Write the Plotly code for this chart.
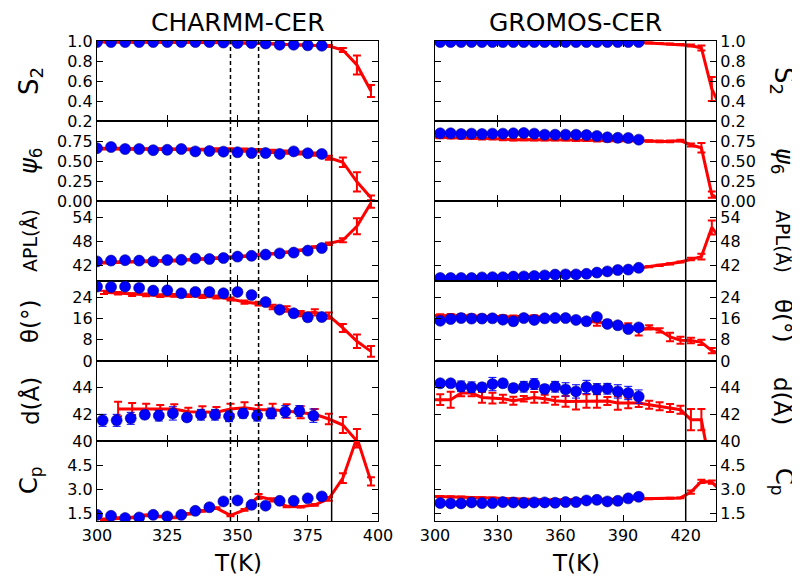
import plotly.graph_objects as go
from plotly.subplots import make_subplots

# ---------------- data ----------------
# CHARMM-CER (left column)
T_blue_L = [300, 305, 310, 315, 320, 325, 330, 335, 340, 345, 350, 355, 360, 365, 370, 375, 380]
T_blue_d_L = [302, 307, 312, 317, 322, 327, 332, 337, 342, 347, 352, 357, 362, 367, 372, 377]
T_red_L = [302.5, 307.5, 312.5, 317.5, 322.5, 327.5, 332.5, 337.5, 342.5, 347.5,
           352.5, 357.5, 362.5, 367.5, 372.5, 377.5, 382.5, 387.5, 392.5, 397.5]
T_red_d_L = T_red_L[1:]

S2_blue_L = [0.99, 0.99, 0.99, 0.99, 0.99, 0.99, 0.99, 0.99, 0.99, 0.985, 0.98, 0.98, 0.975, 0.963, 0.963, 0.957, 0.953]
S2_red_L = [0.99, 0.99, 0.99, 0.99, 0.99, 0.99, 0.99, 0.988, 0.985, 0.983, 0.98, 0.977, 0.972, 0.965, 0.96, 0.955, 0.95, 0.91, 0.76, 0.50]
S2_red_L_err = [0.005] * 16 + [0.01, 0.02, 0.095, 0.06]

psi_blue_L = [0.66, 0.675, 0.65, 0.65, 0.635, 0.64, 0.65, 0.62, 0.625, 0.617, 0.609, 0.6, 0.6, 0.588, 0.62, 0.597, 0.588]
psi_red_L = [0.655, 0.655, 0.65, 0.65, 0.648, 0.647, 0.645, 0.643, 0.64, 0.64, 0.637, 0.63, 0.62, 0.61, 0.60, 0.585, 0.54, 0.485, 0.24, 0.04]
psi_red_L_err = [0.01] * 8 + [0.02] * 8 + [0.025, 0.06, 0.12, 0.03]

apl_blue_L = [42.9, 43.1, 43.2, 43.1, 42.9, 43.25, 43.3, 43.6, 43.5, 43.75, 44.1, 44.3, 44.6, 44.9, 45.1, 45.6, 46.25]
apl_red_L = [42.6, 42.7, 42.8, 42.9, 43.0, 43.1, 43.3, 43.5, 43.7, 43.9, 44.2, 44.5, 44.8, 45.2, 45.7, 46.5, 47.3, 48.2, 51.7, 57.5]
apl_red_L_err = [0.2] * 16 + [0.3, 0.5, 2.0, 1.2]

th_blue_L = [27.9, 27.75, 27.9, 27.4, 26.4, 26.5, 25.4, 25.9, 25.9, 25.4, 25.9, 24.75, 22.1, 19.25, 17.9, 16.4, 16.5]
th_blue_L_err = [0.3] * 15 + [1.5, 1.0]
th_red_L = [25.75, 25.4, 24.9, 24.8, 24.5, 24.6, 24.5, 24.2, 24.0, 23.25, 22.1, 21.5, 20.25, 19.5, 17.75, 18.25, 17.0, 12.4, 7.4, 3.6]
th_red_L_err = [0.6, 0.5, 0.5, 0.5, 0.5, 0.5, 0.5, 0.6, 0.6, 0.6, 0.6, 0.7, 0.8, 1.0, 1.0, 1.2, 1.2, 1.5, 2.5, 2.0]

d_blue_L = [41.55, 41.55, 41.7, 41.97, 41.9, 42.07, 41.77, 41.97, 41.97, 41.85, 42.07, 41.9, 42.07, 42.2, 42.25, 41.9]
d_blue_L_err = [0.45, 0.45, 0.45, 0.3, 0.4, 0.5, 0.3, 0.4, 0.4, 0.4, 0.35, 0.4, 0.4, 0.45, 0.4, 0.5]
d_red_L = [42.4, 42.4, 42.4, 42.35, 42.4, 42.2, 42.2, 42.15, 42.4, 42.5, 42.35, 42.35, 42.25, 42.15, 42.0, 41.65, 41.2, 40.0, 37.5]
d_red_L_err = [0.55, 0.45, 0.4, 0.35, 0.35, 0.3, 0.4, 0.4, 0.4, 0.4, 0.35, 0.45, 0.5, 0.45, 0.4, 0.4, 0.6, 0.9, 0.9]

cp_blue_L = [1.43, 1.37, 1.23, 1.27, 1.43, 1.33, 1.43, 1.68, 1.9, 2.26, 2.32, 2.05, 2.0, 2.3, 2.3, 2.45, 2.57]
cp_red_L = [1.15, 1.23, 1.27, 1.4, 1.33, 1.27, 1.5, 1.68, 1.85, 1.4, 1.74, 2.57, 2.36, 1.95, 1.93, 2.05, 2.42, 3.7, 6.2, 3.5]
cp_red_L_err = [0.05] * 11 + [0.15, 0.1, 0.05, 0.05, 0.05, 0.12, 0.3, 0.6, 0.25]

# GROMOS-CER (right column)
T_blue_R = [302.5 + 5 * i for i in range(20)]
T_red_R = [297.5 + 5 * i for i in range(29)]

S2_blue_R = [0.99] * 20
S2_red_R = [0.99] * 20 + [0.985, 0.98, 0.975, 0.97, 0.965, 0.955, 0.93, 0.52, 0.3]
S2_red_R_err = [0.005] * 25 + [0.01, 0.025, 0.12, 0.1]

psi_blue_R = [0.846, 0.846, 0.8375, 0.842, 0.8375, 0.842, 0.842, 0.846, 0.85, 0.842, 0.829, 0.829, 0.829, 0.829, 0.825, 0.8125, 0.796, 0.79, 0.7875, 0.767]
psi_red_R = [0.80, 0.795, 0.79, 0.79, 0.785, 0.78, 0.78, 0.77, 0.765, 0.77, 0.765, 0.765, 0.765, 0.765, 0.76, 0.76, 0.755, 0.755, 0.755, 0.755, 0.755, 0.75, 0.745, 0.745, 0.755, 0.70, 0.665, 0.08, 0.0]
psi_red_R_err = [0.01] * 25 + [0.02, 0.06, 0.04, 0.04]

apl_blue_R = [38.75, 38.75, 38.75, 38.75, 38.9, 38.95, 38.95, 39.1, 39.15, 39.25, 39.4, 39.6, 39.65, 39.65, 39.8, 40.1, 40.4, 40.75, 40.85, 41.3]
apl_red_R = [38.5, 38.6, 38.7, 38.8, 38.9, 39.0, 39.15, 39.25, 39.35, 39.45, 39.55, 39.7, 39.8, 39.9, 40.0, 40.15, 40.3, 40.5, 40.7, 40.95, 41.2, 41.6, 41.9, 42.3, 42.75, 43.5, 44.1, 51.4, 48.0]
apl_red_R_err = [0.15] * 25 + [0.3, 0.7, 1.75, 1.0]

th_blue_R = [15.1, 15.75, 16.1, 15.9, 15.9, 16.0, 15.5, 14.9, 16.1, 15.4, 16.0, 16.1, 16.1, 15.4, 14.9, 16.5, 13.9, 13.4, 12.0, 12.6]
th_blue_R_err = [0.5] * 16 + [0.6, 0.7, 1.2, 0.8]
th_red_R = [17.2, 17.0, 17.1, 17.0, 16.9, 16.8, 16.8, 16.7, 16.6, 16.8, 16.7, 16.5, 16.4, 16.0, 15.6, 15.0, 14.5, 14.3, 13.6, 13.0, 11.2, 12.6, 11.5, 9.0, 7.8, 7.7, 7.0, 3.9, 2.5]
th_red_R_err = [0.5] * 15 + [1.0, 1.3, 1.0, 1.0, 1.2, 1.6, 0.8, 0.8, 1.6, 1.3, 1.0, 1.0, 1.0, 1.0]

d_blue_R = [44.33, 44.33, 44.1, 44.03, 44.03, 44.27, 44.33, 43.97, 44.07, 44.27, 43.9, 44.07, 43.87, 43.72, 44.05, 43.9, 43.92, 43.72, 43.6, 43.33]
d_blue_R_err = [0.2, 0.2, 0.4, 0.4, 0.3, 0.5, 0.3, 0.3, 0.4, 0.4, 0.3, 0.4, 0.5, 0.5, 0.5, 0.4, 0.4, 0.5, 0.5, 0.5]
d_red_R = [43.1, 43.1, 43.1, 43.6, 43.6, 43.27, 43.22, 43.17, 43.02, 43.17, 43.27, 43.17, 43.02, 42.97, 42.97, 43.0, 43.0, 43.0, 42.85, 42.85, 42.85, 42.72, 42.6, 42.47, 42.35, 41.6, 41.6, 37.5, 37.0]
d_red_R_err = [0.4, 0.4, 0.6, 0.25, 0.25, 0.4, 0.4, 0.3, 0.3, 0.2, 0.4, 0.3, 0.3, 0.4, 0.6, 0.5, 0.5, 0.3, 0.5, 0.4, 0.3, 0.3, 0.3, 0.3, 0.3, 0.8, 0.8, 0.5, 0.5]

cp_blue_R = [2.16, 2.14, 2.14, 2.2, 2.16, 2.16, 2.22, 2.2, 2.18, 2.2, 2.2, 2.18, 2.22, 2.22, 2.32, 2.36, 2.26, 2.3, 2.45, 2.55]
cp_red_R = [2.58, 2.57, 2.55, 2.53, 2.51, 2.49, 2.47, 2.44, 2.41, 2.38, 2.37, 2.36, 2.36, 2.36, 2.37, 2.38, 2.38, 2.39, 2.4, 2.41, 2.42, 2.43, 2.44, 2.46, 2.48, 2.84, 3.5, 3.45, 2.8]
cp_red_R_err = [0.03] * 25 + [0.1, 0.1, 0.1, 0.1]

row_labels = ["S<sub>2</sub>", "<i>ψ</i><sub>6</sub>", "APL(Å)", "θ(°)", "d(Å)", "C<sub>p</sub>"]
row_label_sizes = [26, 24, 19, 23, 23, 24]
y_ranges = [[0.2, 1.0], [0, 1.0], [38, 58], [0, 30], [40, 46], [1.05, 6.0]]
y_tickvals = [[0.2, 0.4, 0.6, 0.8, 1.0], [0, 0.25, 0.5, 0.75], [42, 48, 54], [0, 8, 16, 24], [40, 42, 44], [1.5, 3.0, 4.5]]
y_ticktext = [["0.2", "0.4", "0.6", "0.8", "1.0"], ["0.00", "0.25", "0.50", "0.75"], ["42", "48", "54"],
              ["0", "8", "16", "24"], ["40", "42", "44"], ["1.5", "3.0", "4.5"]]
x_ticks_L = [300, 325, 350, 375, 400]
x_ticks_R = [300, 330, 360, 390, 420]
col_titles = ["CHARMM-CER", "GROMOS-CER"]
dashed_L = [347.5, 357.5]
solid_L = 383.5
solid_R = 420

left_rows = [
    (T_blue_L, S2_blue_L, None, T_red_L, S2_red_L, S2_red_L_err),
    (T_blue_L, psi_blue_L, None, T_red_L, psi_red_L, psi_red_L_err),
    (T_blue_L, apl_blue_L, None, T_red_L, apl_red_L, apl_red_L_err),
    (T_blue_L, th_blue_L, th_blue_L_err, T_red_L, th_red_L, th_red_L_err),
    (T_blue_d_L, d_blue_L, d_blue_L_err, T_red_d_L, d_red_L, d_red_L_err),
    (T_blue_L, cp_blue_L, None, T_red_L, cp_red_L, cp_red_L_err),
]
right_rows = [
    (T_blue_R, S2_blue_R, None, T_red_R, S2_red_R, S2_red_R_err),
    (T_blue_R, psi_blue_R, None, T_red_R, psi_red_R, psi_red_R_err),
    (T_blue_R, apl_blue_R, None, T_red_R, apl_red_R, apl_red_R_err),
    (T_blue_R, th_blue_R, th_blue_R_err, T_red_R, th_red_R, th_red_R_err),
    (T_blue_R, d_blue_R, d_blue_R_err, T_red_R, d_red_R, d_red_R_err),
    (T_blue_R, cp_blue_R, None, T_red_R, cp_red_R, cp_red_R_err),
]

# ---------------- figure ----------------
W, H = 800, 576
col_px = [(89, 370), (427, 708)]
row_tops = [33, 113, 193, 273, 353, 433]
row_h = 80

fig = make_subplots(rows=6, cols=2)

for c, rows in enumerate([left_rows, right_rows]):
    for r, (tb, yb, eb, tr, yr, er) in enumerate(rows):
        fig.add_trace(go.Scatter(
            x=tr, y=yr, mode="lines",
            line=dict(color="red", width=3),
            error_y=dict(type="data", array=er, color="red", thickness=2, width=4),
            showlegend=False, hoverinfo="skip"), row=r + 1, col=c + 1)
        fig.add_trace(go.Scatter(
            x=tb, y=yb, mode="markers",
            marker=dict(color="blue", size=11, line=dict(color="#00008b", width=0.6)),
            error_y=(dict(type="data", array=eb, color="blue", thickness=1, width=4)
                     if eb is not None else dict(visible=False)),
            showlegend=False, hoverinfo="skip"), row=r + 1, col=c + 1)

annotations = []
shapes = []
for r in range(6):
    for c in range(2):
        n = r * 2 + c + 1
        xa = "xaxis" if n == 1 else f"xaxis{n}"
        ya = "yaxis" if n == 1 else f"yaxis{n}"
        xs = "x" if n == 1 else f"x{n}"
        x0, x1 = col_px[c]
        top = row_tops[r]
        fig.layout[xa].update(
            domain=[x0 / W, x1 / W],
            range=[300, 400] if c == 0 else [300, 434.5],
            tickvals=x_ticks_L if c == 0 else x_ticks_R,
            ticktext=[str(v) for v in (x_ticks_L if c == 0 else x_ticks_R)],
            showticklabels=(r == 5),
            ticks="inside", ticklen=6, tickwidth=1, tickcolor="black",
            showline=True, linecolor="black", linewidth=1.3, mirror="ticks",
            showgrid=False, zeroline=False, automargin=False,
            tickfont=dict(size=16, color="black"))
        fig.layout[ya].update(
            domain=[(H - top - row_h) / H, (H - top) / H],
            range=y_ranges[r],
            tickvals=y_tickvals[r], ticktext=y_ticktext[r],
            side="left" if c == 0 else "right",
            ticks="inside", ticklen=6, tickwidth=1, tickcolor="black",
            showline=True, linecolor="black", linewidth=1.3, mirror="ticks",
            showgrid=False, zeroline=False, automargin=False,
            tickfont=dict(size=16, color="black"))
        yref = ("y" if n == 1 else f"y{n}") + " domain"
        if c == 0:
            for xv in dashed_L:
                shapes.append(dict(type="line", xref=xs, yref=yref, x0=xv, x1=xv, y0=0, y1=1,
                                   line=dict(color="black", width=1.5, dash="4px,3px")))
            shapes.append(dict(type="line", xref=xs, yref=yref, x0=solid_L, x1=solid_L, y0=0, y1=1,
                               line=dict(color="black", width=1.5)))
        else:
            shapes.append(dict(type="line", xref=xs, yref=yref, x0=solid_R, x1=solid_R, y0=0, y1=1,
                               line=dict(color="black", width=1.5)))
    yc = (H - row_tops[r] - row_h / 2) / H
    annotations.append(dict(text=row_labels[r], x=22 / W, y=yc, xref="paper", yref="paper",
                            textangle=-90, showarrow=False, xanchor="center", yanchor="middle",
                            font=dict(size=row_label_sizes[r], color="black")))
    annotations.append(dict(text=row_labels[r], x=775 / W, y=yc, xref="paper", yref="paper",
                            textangle=90, showarrow=False, xanchor="center", yanchor="middle",
                            font=dict(size=row_label_sizes[r], color="black")))

for c in range(2):
    xc = (col_px[c][0] + col_px[c][1]) / 2 / W
    annotations.append(dict(text=col_titles[c], x=xc, y=(H - 15) / H, xref="paper", yref="paper",
                            showarrow=False, xanchor="center", yanchor="middle",
                            font=dict(size=25, color="black")))
    annotations.append(dict(text="T(K)", x=xc, y=(H - 555) / H, xref="paper", yref="paper",
                            showarrow=False, xanchor="center", yanchor="middle",
                            font=dict(size=23, color="black")))

fig.update_layout(
    width=W, height=H,
    margin=dict(l=0, r=0, t=0, b=0),
    paper_bgcolor="white", plot_bgcolor="white",
    font=dict(family="DejaVu Sans", color="black"),
    annotations=annotations, shapes=shapes,
    showlegend=False,
)

fig.write_html("out.html")
